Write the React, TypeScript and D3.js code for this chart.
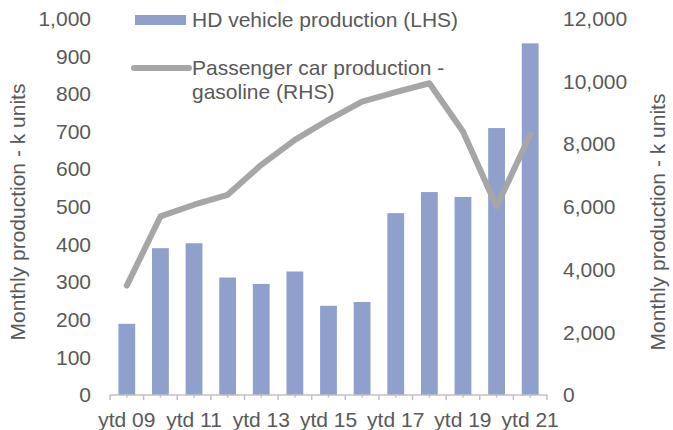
import React from "react";
import * as d3 from "d3";

const categories = ["ytd 09","ytd 10","ytd 11","ytd 12","ytd 13","ytd 14","ytd 15","ytd 16","ytd 17","ytd 18","ytd 19","ytd 20","ytd 21"];
const hdProduction = [189, 390, 403, 312, 295, 328, 237, 247, 483, 539, 526, 709, 934];
const gasolineProduction = [3485, 5691, 6064, 6382, 7337, 8133, 8772, 9352, 9657, 9937, 8397, 6010, 8292];
const leftTicks = [0, 100, 200, 300, 400, 500, 600, 700, 800, 900, 1000];
const rightTicks = [0, 2000, 4000, 6000, 8000, 10000, 12000];
const xLabelIndices = [0, 2, 4, 6, 8, 10, 12];
const legendBar = "HD vehicle production (LHS)";
const legendLine1 = "Passenger car production -";
const legendLine2 = "gasoline (RHS)";
const axisTitle = "Monthly production - k units";

const W = 673, H = 430;
const plotLeft = 110, plotRight = 547, plotTop = 18.5, plotBottom = 395;
const textColor = "#595959";
const barColor = "#8FA0CD";
const lineColor = "#A6A6A6";
const font = "'Liberation Sans', Arial, sans-serif";

export default function App() {
  const x = d3.scaleBand<string>().domain(categories).range([plotLeft, plotRight]).paddingInner(0.5).paddingOuter(0.25);
  const xOuter = d3.scaleBand<string>().domain(categories).range([plotLeft, plotRight]);
  const yL = d3.scaleLinear().domain([0, 1000]).range([plotBottom, plotTop]);
  const yR = d3.scaleLinear().domain([0, 12000]).range([plotBottom, plotTop]);
  const line = d3.line<number>()
    .x((_, i) => (xOuter(categories[i]) as number) + xOuter.bandwidth() / 2)
    .y((d) => yR(d));
  const step = xOuter.step();
  const fs = 21;

  return (
    <svg width={W} height={H} style={{ position: "absolute", left: 0, top: 0 }} fontFamily={font}>
      <rect width={W} height={H} fill="#fff" />
      {hdProduction.map((v, i) => (
        <rect key={i} x={x(categories[i])} y={yL(v)} width={x.bandwidth()} height={yL(0) - yL(v)} fill={barColor} />
      ))}
      <line x1={plotLeft} x2={plotRight} y1={plotBottom} y2={plotBottom} stroke="#BFBFBF" strokeWidth={1.5} />
      {d3.range(categories.length + 1).map((i) => (
        <line key={"M" + i} x1={plotLeft + i * step} x2={plotLeft + i * step} y1={plotBottom} y2={plotBottom + 5} stroke="#BFBFBF" strokeWidth={1.5} />
      ))}
      {categories.map((c, i) => (
        <line key={"m" + i} x1={(xOuter(c) as number) + step / 2} x2={(xOuter(c) as number) + step / 2} y1={plotBottom} y2={plotBottom + 2.5} stroke="#BFBFBF" strokeWidth={1.5} />
      ))}
      <path d={line(gasolineProduction) || ""} fill="none" stroke={lineColor} strokeWidth={6} strokeLinejoin="round" strokeLinecap="round" />
      {leftTicks.map((t) => (
        <text key={"l" + t} x={91} y={yL(t)} dy="0.35em" textAnchor="end" fontSize={fs} fill={textColor}>{d3.format(",")(t)}</text>
      ))}
      {rightTicks.map((t) => (
        <text key={"r" + t} x={563} y={yR(t)} dy="0.35em" textAnchor="start" fontSize={fs} fill={textColor}>{d3.format(",")(t)}</text>
      ))}
      {xLabelIndices.map((i) => (
        <text key={"x" + i} x={(xOuter(categories[i]) as number) + step / 2} y={427} textAnchor="middle" fontSize={fs} fill={textColor}>{categories[i]}</text>
      ))}
      <text transform={`translate(25,212) rotate(-90)`} textAnchor="middle" fontSize={fs} fill={textColor}>{axisTitle}</text>
      <text transform={`translate(665,222) rotate(-90)`} textAnchor="middle" fontSize={fs} fill={textColor}>{axisTitle}</text>
      <rect x={135} y={15} width={51} height={10} fill={barColor} />
      <text x={192} y={20} dy="0.35em" fontSize={fs} fill={textColor}>{legendBar}</text>
      <line x1={134} x2={189} y1={68} y2={68} stroke={lineColor} strokeWidth={6} strokeLinecap="round" />
      <text x={192} y={75} fontSize={fs} fill={textColor}>{legendLine1}</text>
      <text x={192} y={99} fontSize={fs} fill={textColor}>{legendLine2}</text>
    </svg>
  );
}
